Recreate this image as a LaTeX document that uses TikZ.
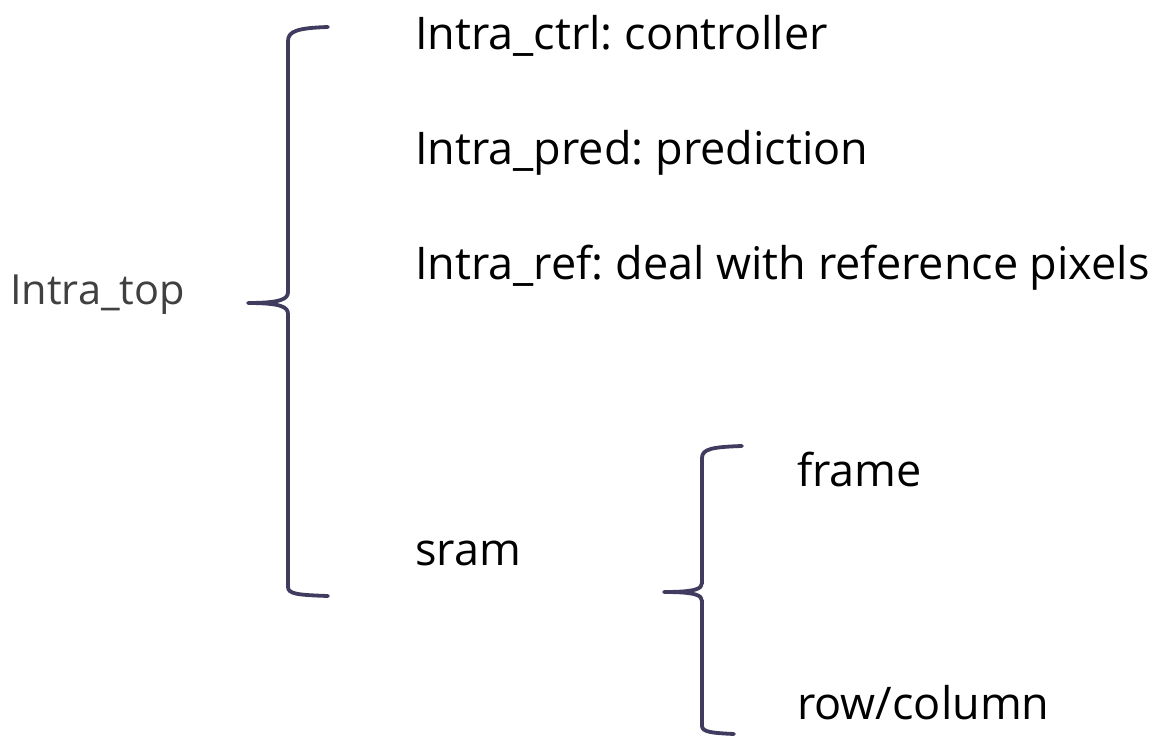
\documentclass[tikz,border=0pt]{standalone}
\usepackage{fontspec}
\setmainfont{Open Sans}
\frenchspacing
\definecolor{braceink}{RGB}{64,60,96}
\definecolor{rootink}{RGB}{64,64,64}
\begin{document}
\begin{tikzpicture}[x=1pt,y=1pt,
  brace/.style={draw=braceink,line width=3.8pt,line cap=round,line join=round},
  label/.style={anchor=base west,inner sep=0pt,font=\fontsize{45}{50}\selectfont,text=black},
  root/.style={label,font=\fontsize{41.5}{48}\selectfont,text=rootink}]
\useasboundingbox (0,0) rectangle (1155,736);
\fill[white] (0,0) rectangle (1155,736);

% top-level module and its children
\node[root]  (top)  at (10,431)  {Intra\_top};
\node[label] (ctrl) at (415,686) {Intra\_ctrl: controller};
\node[label] (pred) at (415,571) {Intra\_pred: prediction};
\node[label] (ref)  at (415,456) {Intra\_ref: deal with reference pixels};
\node[label] (sram) at (415,170) {sram};
\node[label] (frm)  at (797,249) {frame};
\node[label] (rc)   at (797,17)  {row/column};

% brace grouping the children of Intra_top
\path[brace] (328,709) .. controls (298,708) and (288,705) .. (288,695)
  -- (288,444) .. controls (288,437) and (281,433) .. (248,433)
  .. controls (281,433) and (288,429) .. (288,422)
  -- (288,149) .. controls (288,142) and (298,141) .. (328,140);

% brace grouping the sram variants
\path[brace] (742,290) .. controls (712,289) and (702,287) .. (702,278)
  -- (702,153) .. controls (702,147) and (695,144) .. (664,144)
  .. controls (695,144) and (702,141) .. (702,135)
  -- (702,10) .. controls (702,4) and (712,3) .. (734,2);
\end{tikzpicture}
\end{document}
